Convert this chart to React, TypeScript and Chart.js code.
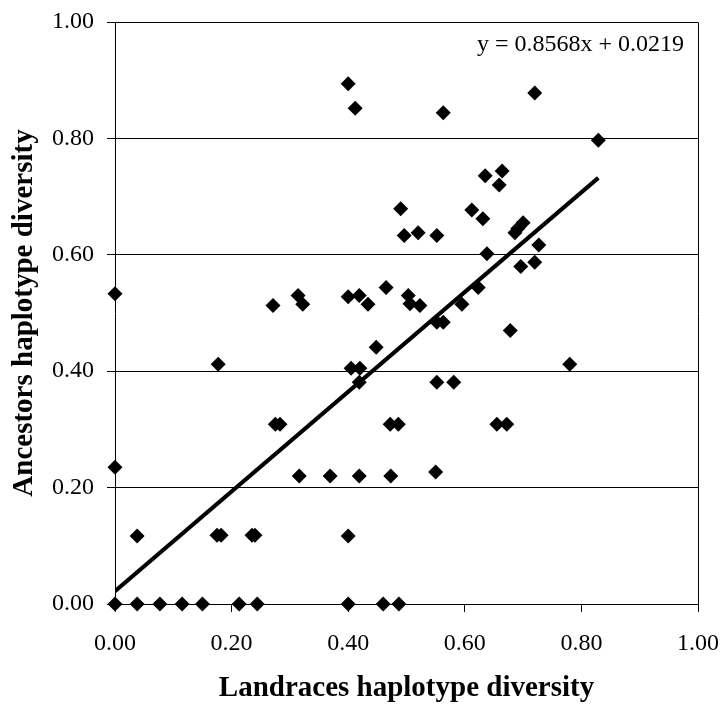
import React, { useEffect, useRef } from "react";
import { Chart, registerables } from "chart.js";

Chart.register(...registerables);

// Landraces haplotype diversity (x) and Ancestors haplotype diversity (y)
const landraces: number[] = [
  0, 0.038, 0.077, 0.115, 0.15, 0.213, 0.244, 0.40, 0.46, 0.487,
  0, 0, 0.038, 0.175, 0.182, 0.235, 0.24, 0.177, 0.271, 0.275,
  0.283, 0.314, 0.322, 0.316, 0.369, 0.419, 0.473, 0.40, 0.405, 0.42,
  0.419, 0.448, 0.40, 0.419, 0.434, 0.465, 0.472, 0.486, 0.40, 0.412,
  0.49, 0.496, 0.503, 0.506, 0.523, 0.52, 0.552, 0.563, 0.552, 0.563,
  0.552, 0.581, 0.55, 0.595, 0.612, 0.623, 0.631, 0.635, 0.638, 0.655,
  0.672, 0.659, 0.664, 0.678, 0.686, 0.691, 0.70, 0.696, 0.72, 0.727,
  0.72, 0.78, 0.829,
];
const ancestors: number[] = [
  0, 0, 0, 0, 0, 0, 0, 0, 0, 0,
  0.235, 0.533, 0.117, 0.118, 0.118, 0.118, 0.118, 0.412, 0.513, 0.309,
  0.309, 0.53, 0.515, 0.22, 0.22, 0.22, 0.22, 0.117, 0.405, 0.405,
  0.381, 0.441, 0.528, 0.53, 0.515, 0.544, 0.309, 0.309, 0.894, 0.852,
  0.679, 0.633, 0.53, 0.516, 0.513, 0.638, 0.633, 0.844, 0.484, 0.484,
  0.381, 0.381, 0.227, 0.515, 0.677, 0.544, 0.662, 0.736, 0.602, 0.309,
  0.309, 0.72, 0.744, 0.47, 0.638, 0.645, 0.655, 0.58, 0.587, 0.617,
  0.878, 0.412, 0.797,
];

const slope = 0.8568;
const intercept = 0.0219;
const equationLabel = "y = 0.8568x + 0.0219";
const xTitle = "Landraces haplotype diversity";
const yTitle = "Ancestors haplotype diversity";
const axisMin = 0;
const axisMax = 1;
const axisStep = 0.2;

const SERIF = "'Liberation Serif', 'Times New Roman', serif";

export default function App() {
  const ref = useRef<HTMLCanvasElement | null>(null);

  useEffect(() => {
    document.body.style.margin = "0";
    const canvas = ref.current;
    if (!canvas) return;

    const points = landraces.map((x, i) => ({ x, y: ancestors[i] }));
    const xMax = Math.max(...landraces);
    const trend = [
      { x: 0, y: intercept },
      { x: xMax, y: slope * xMax + intercept },
    ];

    const framePlugin = {
      id: "frame",
      afterDatasetsDraw(chart: any) {
        const { ctx, chartArea } = chart;
        ctx.save();
        ctx.strokeStyle = "#000";
        ctx.lineWidth = 1;
        ctx.beginPath();
        ctx.moveTo(Math.round(chartArea.right) + 0.5, Math.round(chartArea.top) + 0.5);
        ctx.lineTo(Math.round(chartArea.right) + 0.5, Math.round(chartArea.bottom) + 0.5);
        ctx.stroke();
        ctx.restore();
      },
      afterDraw(chart: any) {
        const { ctx } = chart;
        ctx.save();
        ctx.font = `24px ${SERIF}`;
        ctx.fillStyle = "#000";
        ctx.textAlign = "right";
        ctx.textBaseline = "alphabetic";
        ctx.fillText(equationLabel, 684, 51);
        ctx.restore();
      },
    };

    const chart = new Chart(canvas, {
      type: "scatter",
      data: {
        datasets: [
          {
            type: "line",
            label: "trend",
            data: trend,
            borderColor: "#000",
            borderWidth: 4,
            pointRadius: 0,
            fill: false,
            order: 0,
          } as any,
          {
            label: "points",
            data: points,
            pointStyle: "rectRot",
            pointRadius: 7.5,
            pointBackgroundColor: "#000",
            pointBorderColor: "#000",
            pointBorderWidth: 0,
            clip: false as any,
            order: 1,
          },
        ],
      },
      plugins: [framePlugin],
      options: {
        responsive: false,
        animation: false,
        layout: { padding: { top: 22, right: 24, left: 0, bottom: 0 } },
        plugins: {
          legend: { display: false },
          tooltip: { enabled: false },
        },
        scales: {
          x: {
            type: "linear",
            min: axisMin,
            max: axisMax,
            afterFit: (s: any) => {
              s.height = 102;
              s.paddingLeft = 0;
              s.paddingRight = 0;
            },
            ticks: {
              stepSize: axisStep,
              callback: (v: any) => Number(v).toFixed(2),
              font: { family: SERIF, size: 24 },
              color: "#000",
              padding: 17,
              maxRotation: 0,
            },
            grid: {
              drawOnChartArea: false,
              drawTicks: true,
              tickLength: 8,
              color: "#000",
              lineWidth: 1,
            },
            border: { display: true, color: "#000", width: 1 },
            title: {
              display: true,
              text: xTitle,
              font: { family: SERIF, size: 29, weight: "bold" },
              color: "#000",
              padding: { top: 0, bottom: 0 },
            },
          },
          y: {
            type: "linear",
            min: axisMin,
            max: axisMax,
            afterFit: (s: any) => {
              s.width = 115;
              s.paddingTop = 0;
              s.paddingBottom = 0;
            },
            ticks: {
              stepSize: axisStep,
              callback: (v: any) => Number(v).toFixed(2),
              font: { family: SERIF, size: 24 },
              color: "#000",
              padding: 13,
            },
            grid: {
              drawOnChartArea: true,
              drawTicks: true,
              tickLength: 8,
              color: "#000",
              lineWidth: 1,
            },
            border: { display: true, color: "#000", width: 1 },
            title: {
              display: true,
              text: yTitle,
              font: { family: SERIF, size: 29, weight: "bold" },
              color: "#000",
              padding: { top: 7, bottom: 0 },
            },
          },
        },
      },
    });

    return () => {
      chart.destroy();
    };
  }, []);

  return (
    <div style={{ position: "absolute", left: 0, top: 0, width: 722, height: 706 }}>
      <canvas ref={ref} width={722} height={706} style={{ display: "block" }} />
    </div>
  );
}
